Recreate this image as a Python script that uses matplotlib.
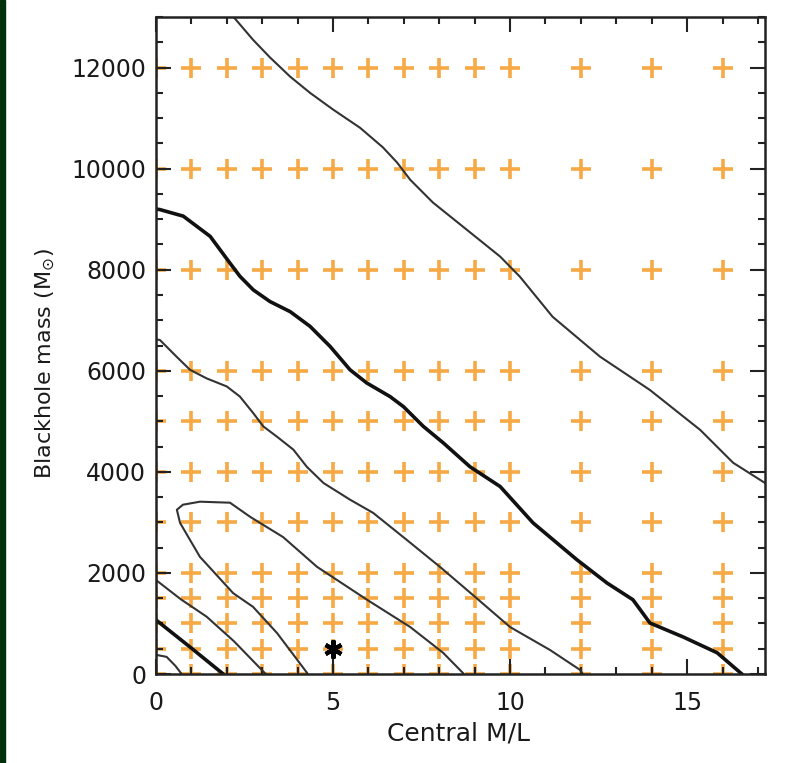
import matplotlib
matplotlib.use('Agg')
import matplotlib.pyplot as plt
from matplotlib.ticker import MultipleLocator
import numpy as np

# model grid that was sampled
grid_ml = [0, 1, 2, 3, 4, 5, 6, 7, 8, 9, 10, 12, 14, 16]
grid_mbh = [0, 500, 1000, 1500, 2000, 3000, 4000, 5000, 6000, 8000, 10000, 12000]

# best fit
best_ml = 5
best_mbh = 500

# contour lines (M/L, Mbh)
cont_a_x = [2.0, 2.18, 2.74, 3.22, 3.79, 4.35, 5.0, 5.76, 6.41, 6.81, 7.18, 7.82, 8.78, 9.72,
            10.28, 11.2, 12.54, 13.95, 15.37, 16.3, 17.2, 17.4]
cont_a_y = [13250, 13010, 12550, 12200, 11820, 11500, 11170, 10810, 10420, 10120, 9780, 9330, 8790, 8260,
            7860, 7070, 6280, 5620, 4830, 4180, 3780, 3650]

cont_b_x = [0, 0.11, 0.77, 1.53, 2.09, 2.37, 2.75, 3.22, 3.79, 4.35, 4.92, 5.48, 5.95, 6.61, 6.99,
            7.55, 8.12, 8.87, 9.72, 10.65, 11.89, 12.74, 13.47, 13.95, 14.9, 15.85, 16.58]
cont_b_y = [9200, 9190, 9060, 8660, 8130, 7870, 7600, 7370, 7170, 6880, 6480, 6020, 5760, 5490, 5290,
            4900, 4570, 4100, 3710, 2990, 2260, 1800, 1470, 1010, 730, 420, -20]

cont_c_x = [0, 0.11, 0.58, 0.96, 1.43, 2.0, 2.37, 2.75, 3.03, 3.41, 3.88, 4.26, 4.73, 5.48, 6.13,
            7.09, 8.02, 8.79, 10.0, 11.13, 11.98, 12.1]
cont_c_y = [6620, 6610, 6280, 6020, 5850, 5690, 5490, 5160, 4900, 4700, 4440, 4100, 3780, 3450, 3190,
            2650, 2120, 1660, 930, 475, 80, -50]

cont_d_x = [4.3, 4.27, 3.42, 2.74, 2.18, 1.24, 0.68, 0.59, 0.76, 1.24, 2.09, 2.66, 3.59, 4.55, 5.96,
            7.18, 8.11, 8.67, 8.72]
cont_d_y = [-50, 20, 810, 1330, 1600, 2320, 2990, 3250, 3350, 3410, 3390, 3110, 2710, 2120, 1470,
            930, 420, 20, -50]

cont_e_x = [0, 0.7, 1.43, 2.2, 3.1, 3.2]
cont_e_y = [1860, 1480, 1135, 650, 0, -60]

cont_f_x = [0, 0.96, 1.9, 1.95]
cont_f_y = [1070, 535, 0, -50]

cont_g_x = [0, 0.3, 0.55, 0.78]
cont_g_y = [380, 340, 160, -50]

thin = [(cont_a_x, cont_a_y), (cont_c_x, cont_c_y), (cont_d_x, cont_d_y),
        (cont_e_x, cont_e_y), (cont_g_x, cont_g_y)]
thick = [(cont_b_x, cont_b_y), (cont_f_x, cont_f_y)]

fig = plt.figure(figsize=(7.93, 7.63), dpi=100)
# dark strip on the left edge of the screenshot
fig.patches.append(plt.Rectangle((0, 0), 5 / 793, 1, transform=fig.transFigure,
                                 color='#03300a', zorder=0))
ax = fig.add_axes([0.1967, 0.1166, 0.7680, 0.8611])

gx, gy = np.meshgrid(grid_ml, grid_mbh)
ax.plot(gx.ravel(), gy.ravel(), linestyle='none', marker='+', ms=14,
        mew=2.6, color='#f5a030', alpha=0.9, zorder=1)

for cx, cy in thin:
    ax.plot(cx, cy, color='#333333', lw=1.5, zorder=2, solid_joinstyle='round')
for cx, cy in thick:
    ax.plot(cx, cy, color='#111111', lw=2.6, zorder=2, solid_joinstyle='round')

ax.plot([best_ml], [best_mbh], linestyle='none', marker=(6, 2, 0), ms=13,
        mew=3, color='black', zorder=3)

ax.set_xlim(0, 17.2)
ax.set_ylim(0, 13000)

ax.xaxis.set_major_locator(MultipleLocator(5))
ax.xaxis.set_minor_locator(MultipleLocator(1))
ax.yaxis.set_major_locator(MultipleLocator(2000))
ax.yaxis.set_minor_locator(MultipleLocator(500))
ax.tick_params(which='both', direction='in', top=True, right=True,
               width=1.5, color='#222222')
ax.tick_params(which='major', length=10.5)
ax.tick_params(which='minor', length=5)
ax.tick_params(axis='x', which='major', labelsize=17, pad=12, labelcolor='#1a1a1a')
ax.tick_params(axis='y', which='major', labelsize=17, pad=7, labelcolor='#1a1a1a')

for sp in ax.spines.values():
    sp.set_linewidth(1.8)
    sp.set_color('#222222')

ax.set_xlabel('Central M/L', fontsize=18, color='#1a1a1a')
ax.set_ylabel(r'Blackhole mass (M$_{\odot}$)', fontsize=16, color='#1a1a1a')
ax.xaxis.set_label_coords(0.496, -0.072)
ax.yaxis.set_label_coords(-0.163, 0.472)

fig.savefig('out.png', dpi=100)
